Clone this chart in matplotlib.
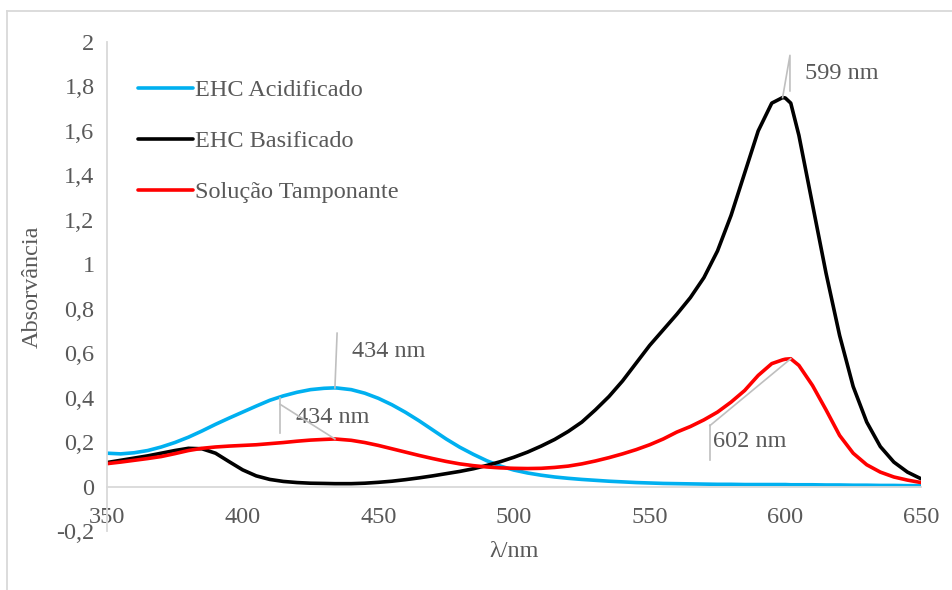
import numpy as np
import matplotlib
matplotlib.use("Agg")
import matplotlib.pyplot as plt
from matplotlib.lines import Line2D

plt.rcParams['font.family'] = ['Liberation Serif', 'DejaVu Serif']

# wavelengths (nm)
wl = list(range(350, 431, 5)) + [434] + list(range(435, 596, 5)) + [599, 600, 602] + list(range(605, 651, 5))

acidificado = [0.150, 0.147, 0.152, 0.162, 0.178, 0.198, 0.222, 0.250, 0.280, 0.308,
               0.335, 0.362, 0.388, 0.408, 0.424, 0.436, 0.442,
               0.444,
               0.443, 0.436, 0.420, 0.397, 0.368, 0.334, 0.296, 0.255, 0.214, 0.177,
               0.145, 0.116, 0.092, 0.074, 0.061, 0.051, 0.043, 0.037, 0.032, 0.028,
               0.024, 0.021, 0.018, 0.016, 0.014, 0.013, 0.012, 0.011, 0.010, 0.010,
               0.009, 0.009, 0.009,
               0.009, 0.009, 0.008,
               0.008, 0.008, 0.007, 0.007, 0.006, 0.006, 0.005, 0.005, 0.004, 0.004]

basificado = [0.108, 0.118, 0.128, 0.138, 0.150, 0.162, 0.172, 0.170, 0.150, 0.112,
              0.075, 0.048, 0.032, 0.023, 0.018, 0.015, 0.014,
              0.013,
              0.013, 0.013, 0.015, 0.019, 0.024, 0.031, 0.039, 0.048, 0.058, 0.068,
              0.080, 0.095, 0.112, 0.132, 0.155, 0.182, 0.212, 0.248, 0.290, 0.345,
              0.405, 0.475, 0.555, 0.635, 0.705, 0.775, 0.850, 0.940, 1.060, 1.220,
              1.410, 1.600, 1.725,
              1.750, 1.748, 1.725,
              1.580, 1.270, 0.960, 0.680, 0.450, 0.290, 0.180, 0.110, 0.065, 0.035]

tamponante = [0.103, 0.110, 0.118, 0.126, 0.135, 0.148, 0.162, 0.172, 0.178, 0.182,
              0.185, 0.188, 0.193, 0.198, 0.204, 0.209, 0.212,
              0.214,
              0.213, 0.208, 0.198, 0.185, 0.170, 0.155, 0.140, 0.126, 0.113, 0.102,
              0.094, 0.088, 0.084, 0.082, 0.081, 0.082, 0.086, 0.092, 0.102, 0.115,
              0.130, 0.147, 0.166, 0.188, 0.214, 0.245, 0.270, 0.300, 0.335, 0.380,
              0.432, 0.500, 0.553,
              0.570, 0.573, 0.575,
              0.545, 0.455, 0.345, 0.230, 0.150, 0.098, 0.065, 0.043, 0.029, 0.018]

labels = ["EHC Acidificado", "EHC Basificado", "Solução Tamponante"]
colors = ["#00B0F0", "#000000", "#FF0000"]

grey_txt = "#595959"
grey_line = "#BFBFBF"
fs = 17.5

fig = plt.figure(figsize=(9.53, 5.9), dpi=100)
ax = fig.add_axes([107/953, 1 - 531/590, 814/953, 489/590])

for ys, lab, c in zip([acidificado, basificado, tamponante], labels, colors):
    ax.plot(wl, ys, color=c, lw=2.6, label=lab, solid_capstyle='round', solid_joinstyle='round')

ax.set_xlim(350, 650)
ax.set_ylim(-0.2, 2)
ax.set_xticks([350, 400, 450, 500, 550, 600, 650])
yt = np.round(np.arange(-0.2, 2.01, 0.2), 1)
ax.set_yticks(yt)
ax.set_yticklabels([("%g" % v).replace(".", ",") for v in yt])

for s in ["top", "right"]:
    ax.spines[s].set_visible(False)
ax.spines["bottom"].set_position(("data", 0))
ax.spines["bottom"].set_color("#D9D9D9")
ax.spines["left"].set_color("#D9D9D9")
ax.spines["bottom"].set_linewidth(1.3)
ax.spines["left"].set_linewidth(1.3)
ax.tick_params(axis="both", length=0, labelsize=fs, labelcolor=grey_txt)
ax.tick_params(axis="y", pad=9)
ax.tick_params(axis="x", pad=15)

ax.set_xlabel("λ/nm", fontsize=fs, color=grey_txt)
ax.xaxis.set_label_coords(0.5, -0.02)
ax.set_ylabel("Absorvância", fontsize=fs, color=grey_txt, va="center")
ax.yaxis.set_label_coords(-0.092, 0.5)

# peak labels with leader lines
def leader(series, w, pts, txt, tx, ty):
    i = wl.index(w)
    p = (w, series[i])
    xs = [p[0]] + [q[0] for q in pts[0]]
    ys = [p[1]] + [q[1] for q in pts[0]]
    ax.plot(xs, ys, color=grey_line, lw=1.2, zorder=4)
    if len(pts) > 1:
        ax.plot([q[0] for q in pts[1]], [q[1] for q in pts[1]], color=grey_line, lw=1.2, zorder=4)
    ax.text(tx, ty, txt, fontsize=fs, color=grey_txt, va="center", ha="left")

leader(basificado, 599, [[(601.7, 1.94), (601.7, 1.78)]], "599 nm", 607.3, 1.86)
leader(acidificado, 434, [[(434.8, 0.69)]], "434 nm", 440.3, 0.607)
leader(tamponante, 434, [[(413.8, 0.37)], [(413.8, 0.40), (413.8, 0.243)]], "434 nm", 419.7, 0.31)
leader(tamponante, 602, [[(572.2, 0.274)], [(572.2, 0.279), (572.2, 0.121)]], "602 nm", 572.2 + 1.0, 0.202)

leg = ax.legend(loc="upper left", bbox_to_anchor=(138/953, 1 - 79/590),
                bbox_transform=fig.transFigure, frameon=False, fontsize=fs,
                handlelength=2.25, handletextpad=0.1, labelspacing=1.2, borderpad=0,
                borderaxespad=0)
for t in leg.get_texts():
    t.set_color(grey_txt)

# chart area border (only left and top visible)
fig.add_artist(Line2D([7/953, 7/953], [0, 1 - 11/590], transform=fig.transFigure, color="#D9D9D9", lw=1.3))
fig.add_artist(Line2D([7/953, 1], [1 - 11/590, 1 - 11/590], transform=fig.transFigure, color="#D9D9D9", lw=1.3))

fig.savefig("out.png", dpi=100)
